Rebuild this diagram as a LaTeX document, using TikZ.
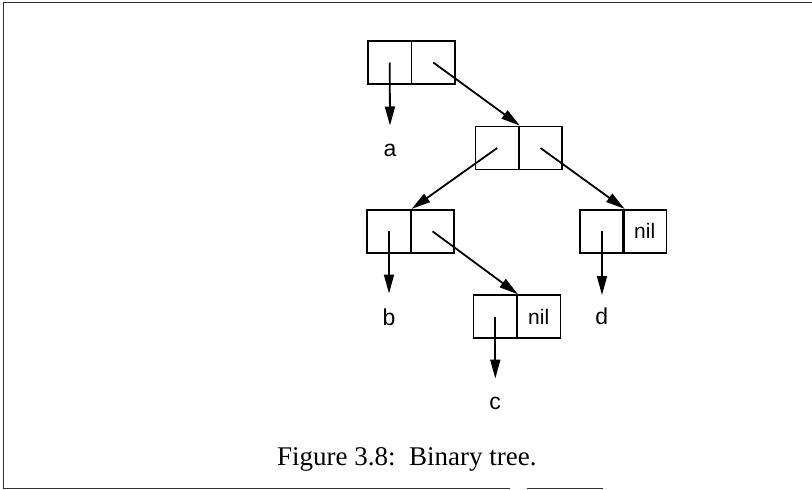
\documentclass[tikz,border=0pt]{standalone}
\usepackage{fontspec}
\setmainfont{Liberation Serif}
\newfontfamily\labelfont{Liberation Sans}
\usetikzlibrary{arrows.meta}
\begin{document}
\begin{tikzpicture}[x=1pt,y=-1pt,
  cell/.style={draw, line width=1.8pt, minimum width=43.5pt, minimum height=43pt, inner sep=0pt, font=\labelfont\fontsize{21}{21}\selectfont},
  ptr/.style={line width=1.8pt, -{Triangle[length=19pt,width=10pt]}},
  lbl/.style={inner sep=0pt, font=\labelfont\fontsize{23}{23}\selectfont},
  frame/.style={line width=1.6pt, black!80}]
\useasboundingbox (0,0) rectangle (812,490);
% frame
\coordinate (ftl) at (3.5,2.5);
\coordinate (ftr) at (812,2.5);
\coordinate (fbl) at (3.5,488.5);
\coordinate (fb1) at (510,488.5);
\coordinate (fb2) at (527,488.5);
\coordinate (fb3) at (603,488.5);
\draw[frame] (ftr) -- (ftl) -- (fbl) -- (fb1);
\draw[frame] (fb2) -- (fb3);
% cells
\node[cell] (b1l) at (389.7,62.5) {};
\node[cell] (b1r) at (433.3,62.5) {};
\node[cell] (b2l) at (497.2,148) {};
\node[cell] (b2r) at (540.5,148) {};
\node[cell] (b3l) at (389,231.3) {};
\node[cell] (b3r) at (432.5,231.3) {};
\node[cell] (b4l) at (495.3,316.7) {};
\node[cell] (b4r) at (538.7,316.7) {nil};
\node[cell] (b5l) at (602,231.3) {};
\node[cell] (b5r) at (644.7,231.3) {nil};
% labels
\node[lbl] (la) at (390,150) {a};
\node[lbl] (lb) at (389,317) {b};
\node[lbl] (lc) at (495,403) {c};
\node[lbl] (ld) at (601.7,316) {d};
\coordinate (ta) at (390,125.5);
\coordinate (tb) at (389,293.5);
\coordinate (tc) at (495.3,378.5);
\coordinate (td) at (602,295);
% pointers
\draw[ptr] (b1l.center) -- (ta);
\draw[ptr] (b1r.center) -- (b2l.north east);
\draw[ptr] (b2l.center) -- (b3l.north east);
\draw[ptr] (b2r.center) -- (b5l.north east);
\draw[ptr] (b3l.center) -- (tb);
\draw[ptr] (b3r.center) -- (b4l.north east);
\draw[ptr] (b4l.center) -- (tc);
\draw[ptr] (b5l.center) -- (td);
% caption
\node[anchor=base, inner sep=0pt, font=\fontsize{27}{27}\selectfont] (cap) at (406.9,465.7) {Figure 3.8:\ \ Binary tree.};
\end{tikzpicture}
\end{document}
